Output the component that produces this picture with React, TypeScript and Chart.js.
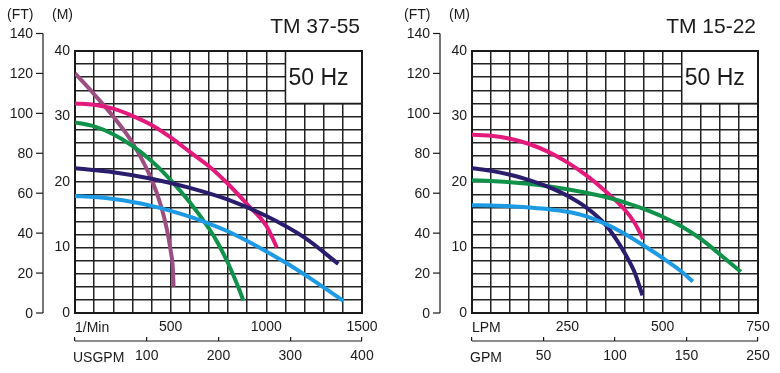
import React, { useEffect, useRef } from 'react';
import { Chart, registerables } from 'chart.js';

Chart.register(...registerables);

// ---------- shared axis data ----------
const FT_PER_M = 3.2808;
const FT_TICKS = [0, 20, 40, 60, 80, 100, 120, 140];
const M_LABELED_TICKS = [0, 10, 20, 30, 40];
const M_MAX = 40;
const M_STEP = 2;
const HZ_LABEL = '50 Hz';
const HZ_BOX_BOTTOM_M = 32;

// ---------- colours ----------
const PINK = '#e4197c';
const GREEN = '#10924a';
const NAVY = '#2a1d6e';
const SKY = '#1c9ae4';
const MAUVE = '#9c4d82';

// ---------- left chart: TM 37-55 ----------
const L_TITLE = 'TM 37-55';
const L_FLOW_UNIT = '1/Min';
const L_ALT_UNIT = 'USGPM';
const L_FLOW_MAX = 1500;
const L_FLOW_STEP = 100;
const L_FLOW_LABELS = [500, 1000, 1500];
const L_ALT_MAX = 400;
const L_ALT_TICKS = [0, 100, 200, 300, 400];
const L_ALT_LABELS = ['', '100', '200', '300', '400'];
const L_BOX_FROM = 1100;

const L_MAUVE_Q = [0, 100, 200, 300, 400, 450, 480, 500, 512, 515];
const L_MAUVE_H = [36.6, 33.4, 30.0, 26.0, 20.4, 16.3, 12.8, 9.5, 6.5, 4.0];
const L_PINK_Q = [0, 100, 200, 300, 400, 500, 600, 700, 800, 900, 1000, 1055];
const L_PINK_H = [32.0, 31.8, 31.2, 30.1, 28.7, 26.8, 24.6, 22.4, 19.7, 16.6, 13.3, 10.0];
const L_GREEN_Q = [0, 100, 200, 300, 400, 500, 600, 700, 750, 800, 850, 880];
const L_GREEN_H = [29.1, 28.5, 27.3, 25.5, 23.2, 20.3, 16.9, 12.9, 10.5, 7.6, 4.2, 1.9];
const L_NAVY_Q = [0, 200, 400, 600, 800, 1000, 1200, 1376];
const L_NAVY_H = [22.1, 21.5, 20.5, 19.1, 17.3, 14.8, 11.5, 7.5];
const L_SKY_Q = [0, 100, 200, 300, 400, 500, 600, 700, 800, 900, 1000, 1100, 1200, 1300, 1403];
const L_SKY_H = [17.85, 17.7, 17.4, 16.95, 16.35, 15.6, 14.7, 13.65, 12.45, 11.0, 9.4, 7.7, 5.85, 3.9, 1.85];

// ---------- right chart: TM 15-22 ----------
const R_TITLE = 'TM 15-22';
const R_FLOW_UNIT = 'LPM';
const R_ALT_UNIT = 'GPM';
const R_FLOW_MAX = 750;
const R_FLOW_STEP = 50;
const R_FLOW_LABELS = [250, 500, 750];
const R_ALT_MAX = 200;
const R_ALT_TICKS = [0, 50, 100, 150, 200];
const R_ALT_LABELS = ['', '50', '100', '150', '250'];
const R_BOX_FROM = 550;

const R_PINK_Q = [0, 50, 100, 150, 200, 250, 300, 350, 400, 425, 449];
const R_PINK_H = [27.2, 27.05, 26.6, 25.8, 24.6, 23.0, 21.0, 18.6, 15.8, 13.9, 11.3];
const R_NAVY_Q = [0, 50, 100, 150, 200, 250, 300, 350, 380, 400, 425, 447];
const R_NAVY_H = [22.1, 21.7, 21.1, 20.3, 19.25, 17.9, 16.1, 13.5, 11.1, 9.2, 6.4, 2.7];
const R_GREEN_Q = [0, 50, 100, 150, 200, 250, 300, 350, 400, 450, 500, 550, 600, 650, 705];
const R_GREEN_H = [20.25, 20.15, 19.95, 19.7, 19.35, 18.9, 18.35, 17.7, 16.9, 15.9, 14.7, 13.2, 11.3, 8.95, 6.3];
const R_SKY_Q = [0, 50, 100, 150, 200, 250, 300, 350, 400, 450, 500, 550, 579];
const R_SKY_H = [16.45, 16.4, 16.3, 16.1, 15.85, 15.45, 14.75, 13.6, 12.1, 10.3, 8.4, 6.3, 4.8];

type Series = { q: number[]; h: number[]; color: string };
type Spec = {
  title: string;
  flowUnit: string;
  altUnit: string;
  flowMax: number;
  flowStep: number;
  flowLabels: number[];
  altMax: number;
  altTicks: number[];
  altLabels: string[];
  boxFrom: number;
  series: Series[];
  width: number;
  padRight: number;
  left: number;
};

const LEFT_SPEC: Spec = {
  title: L_TITLE,
  flowUnit: L_FLOW_UNIT,
  altUnit: L_ALT_UNIT,
  flowMax: L_FLOW_MAX,
  flowStep: L_FLOW_STEP,
  flowLabels: L_FLOW_LABELS,
  altMax: L_ALT_MAX,
  altTicks: L_ALT_TICKS,
  altLabels: L_ALT_LABELS,
  boxFrom: L_BOX_FROM,
  series: [
    { q: L_SKY_Q, h: L_SKY_H, color: SKY },
    { q: L_NAVY_Q, h: L_NAVY_H, color: NAVY },
    { q: L_GREEN_Q, h: L_GREEN_H, color: GREEN },
    { q: L_PINK_Q, h: L_PINK_H, color: PINK },
    { q: L_MAUVE_Q, h: L_MAUVE_H, color: MAUVE },
  ],
  width: 390,
  padRight: 28,
  left: 0,
};

const RIGHT_SPEC: Spec = {
  title: R_TITLE,
  flowUnit: R_FLOW_UNIT,
  altUnit: R_ALT_UNIT,
  flowMax: R_FLOW_MAX,
  flowStep: R_FLOW_STEP,
  flowLabels: R_FLOW_LABELS,
  altMax: R_ALT_MAX,
  altTicks: R_ALT_TICKS,
  altLabels: R_ALT_LABELS,
  boxFrom: R_BOX_FROM,
  series: [
    { q: R_SKY_Q, h: R_SKY_H, color: SKY },
    { q: R_NAVY_Q, h: R_NAVY_H, color: NAVY },
    { q: R_GREEN_Q, h: R_GREEN_H, color: GREEN },
    { q: R_PINK_Q, h: R_PINK_H, color: PINK },
  ],
  width: 383,
  padRight: 22,
  left: 397,
};

const FONT_FAMILY = '"Liberation Sans", Arial, sans-serif';
const INK = '#1a1a1a';
const GRID = '#222222';

function buildConfig(spec: Spec): any {
  const decor = {
    id: 'decor',
    beforeDatasetsDraw(chart: any) {
      const { ctx, chartArea: a, scales } = chart;
      const x = scales.x;
      const y = scales.y;
      ctx.save();
      // "50 Hz" box
      const bx = x.getPixelForValue(spec.boxFrom);
      const by = y.getPixelForValue(HZ_BOX_BOTTOM_M);
      ctx.fillStyle = '#ffffff';
      ctx.fillRect(bx, a.top, a.right - bx, by - a.top);
      ctx.strokeStyle = INK;
      ctx.lineWidth = 1.5;
      ctx.beginPath();
      ctx.moveTo(bx, a.top);
      ctx.lineTo(bx, by);
      ctx.lineTo(a.right, by);
      ctx.stroke();
      ctx.fillStyle = INK;
      ctx.font = '23px ' + FONT_FAMILY;
      ctx.textAlign = 'left';
      ctx.textBaseline = 'alphabetic';
      ctx.fillText(HZ_LABEL, bx + 3, by - 18);
      // frame
      ctx.lineWidth = 2;
      ctx.strokeRect(a.left, a.top, a.right - a.left, a.bottom - a.top);
      ctx.restore();
    },
    afterDraw(chart: any) {
      const { ctx, chartArea: a, scales } = chart;
      const y = scales.y;
      const x2 = scales.x2;
      ctx.save();
      ctx.fillStyle = INK;
      ctx.strokeStyle = INK;
      ctx.textBaseline = 'alphabetic';

      // Title
      ctx.font = '21px ' + FONT_FAMILY;
      ctx.textAlign = 'right';
      ctx.fillText(spec.title, a.right - 2, 33);

      // FT axis
      const axisX = a.left - 32;
      const yTop = y.getPixelForValue(FT_TICKS[FT_TICKS.length - 1] / FT_PER_M);
      const yBot = y.getPixelForValue(FT_TICKS[0] / FT_PER_M);
      ctx.lineWidth = 1.2;
      ctx.beginPath();
      ctx.moveTo(axisX, yTop);
      ctx.lineTo(axisX, yBot);
      ctx.stroke();
      ctx.font = '14px ' + FONT_FAMILY;
      ctx.textAlign = 'right';
      FT_TICKS.forEach((ft) => {
        const py = y.getPixelForValue(ft / FT_PER_M);
        ctx.beginPath();
        ctx.moveTo(axisX - 7, py);
        ctx.lineTo(axisX, py);
        ctx.stroke();
        ctx.fillText(String(ft), axisX - 10, py + 5);
      });

      // unit captions
      ctx.textAlign = 'left';
      ctx.fillText('(FT)', axisX - 36, 18.5);
      ctx.fillText('(M)', a.left - 23, 18.5);
      ctx.fillText(spec.flowUnit, a.left, a.bottom + 19);
      ctx.fillText(spec.altUnit, a.left - 2, a.bottom + 48.5);

      // secondary flow axis line
      const ly = x2.top + 4;
      ctx.lineWidth = 1.2;
      ctx.beginPath();
      ctx.moveTo(x2.left, ly);
      ctx.lineTo(x2.right, ly);
      ctx.stroke();
      ctx.restore();
    },
  };

  const tickFont = { family: FONT_FAMILY, size: 14 };

  return {
    type: 'line',
    data: {
      datasets: spec.series.map((s) => ({
        data: s.q.map((q, i) => ({ x: q, y: s.h[i] })),
        borderColor: s.color,
        backgroundColor: s.color,
        borderWidth: 4,
        pointRadius: 0,
        cubicInterpolationMode: 'monotone',
        fill: false,
      })),
    },
    options: {
      responsive: false,
      animation: false,
      devicePixelRatio: 1,
      layout: { padding: { left: 0, top: 51, right: spec.padRight, bottom: 0 } },
      plugins: { legend: { display: false }, tooltip: { enabled: false }, title: { display: false } },
      scales: {
        x: {
          type: 'linear',
          position: 'bottom',
          weight: 0,
          min: 0,
          max: spec.flowMax,
          ticks: {
            stepSize: spec.flowStep,
            autoSkip: false,
            maxTicksLimit: 100,
            maxRotation: 0,
            padding: 6,
            font: tickFont,
            color: INK,
            callback: (v: number) => (spec.flowLabels.includes(v) ? String(v) : ''),
          },
          grid: { color: GRID, lineWidth: 1.5, drawTicks: false },
          border: { display: false },
          afterFit: (s: any) => {
            s.height = 24;
          },
        },
        x2: {
          type: 'linear',
          position: 'bottom',
          weight: 1,
          min: 0,
          max: spec.altMax,
          afterBuildTicks: (s: any) => {
            s.ticks = spec.altTicks.map((v) => ({ value: v }));
          },
          ticks: {
            autoSkip: false,
            maxRotation: 0,
            padding: 7,
            font: tickFont,
            color: INK,
            callback: (_v: number, i: number) => spec.altLabels[i],
          },
          grid: { drawOnChartArea: false, drawTicks: true, tickLength: 4, color: INK, lineWidth: 1.2 },
          border: { display: false },
          afterFit: (s: any) => {
            s.height = 36;
          },
        },
        y: {
          type: 'linear',
          position: 'left',
          min: 0,
          max: M_MAX,
          ticks: {
            stepSize: M_STEP,
            autoSkip: false,
            maxTicksLimit: 100,
            padding: 5,
            font: tickFont,
            color: INK,
            callback: (v: number) => (M_LABELED_TICKS.includes(v) ? String(v) : ''),
          },
          grid: { color: GRID, lineWidth: 1.5, drawTicks: false },
          border: { display: false },
          afterFit: (s: any) => {
            s.width = 75;
          },
        },
      },
    },
    plugins: [decor],
  };
}

function PumpChart({ spec }: { spec: Spec }) {
  const ref = useRef<HTMLCanvasElement>(null);
  useEffect(() => {
    if (!ref.current) return;
    const chart = new Chart(ref.current, buildConfig(spec));
    return () => chart.destroy();
  }, [spec]);
  return (
    <canvas
      ref={ref}
      width={spec.width}
      height={373}
      style={{ position: 'absolute', left: spec.left, top: 0, width: spec.width, height: 373 }}
    />
  );
}

export default function App() {
  return (
    <div style={{ position: 'absolute', left: 0, top: 0, width: 780, height: 373, background: '#ffffff', overflow: 'hidden' }}>
      <PumpChart spec={LEFT_SPEC} />
      <PumpChart spec={RIGHT_SPEC} />
    </div>
  );
}
